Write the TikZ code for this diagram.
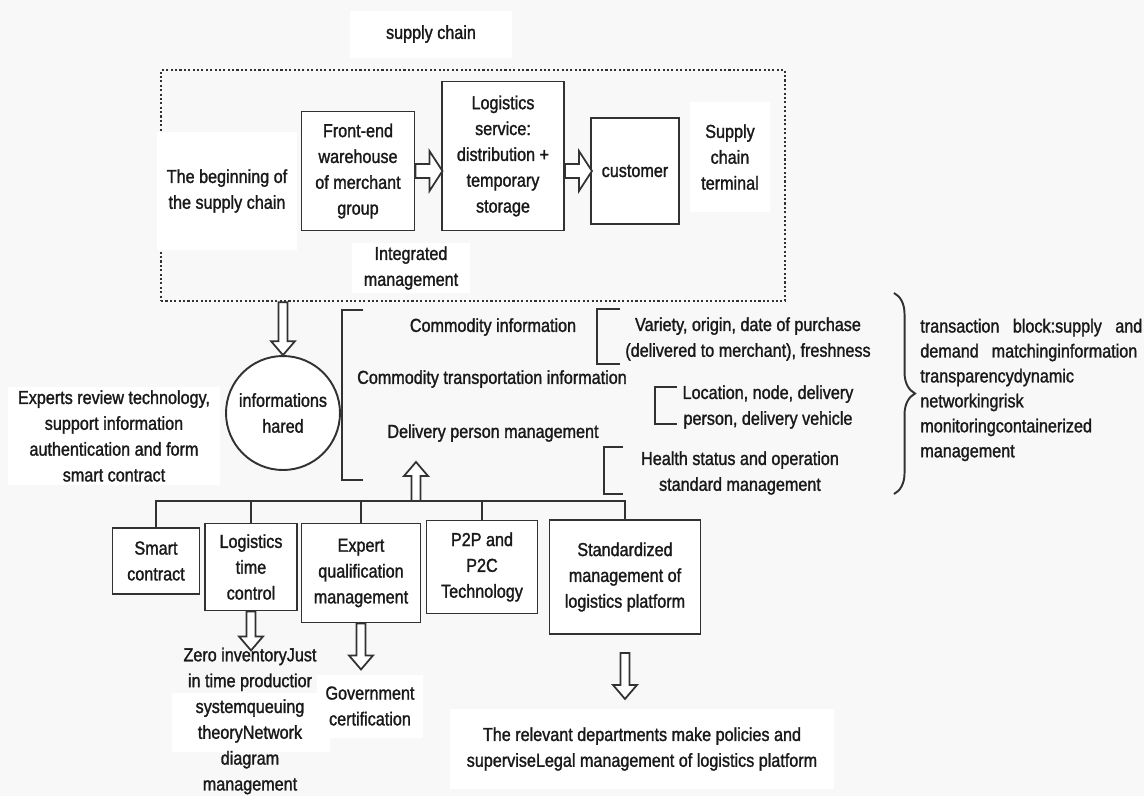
\documentclass[tikz,border=0pt]{standalone}
\usepackage{fontspec}
\setmainfont[FakeStretch=0.86,FakeBold=1.4]{Liberation Sans}
\usetikzlibrary{decorations.pathreplacing}
\definecolor{bggray}{RGB}{248,248,248}
\definecolor{edge}{RGB}{50,50,50}
\definecolor{ink}{RGB}{25,25,25}

\begin{document}
\begin{tikzpicture}[%
      x=0.02cm, y=-0.02cm,
      font=\fontsize{10.7}{14.7}\selectfont,
      text=ink,
      box/.style={draw=edge, line width=1.1pt, fill=white, align=center, inner sep=1pt},
      lbl/.style={fill=white, align=center, inner sep=0pt},
      txt/.style={align=center, inner sep=0pt},
      line/.style={draw=edge, line width=1.1pt},
      fatline/.style={draw=edge, line width=1pt, fill=white},
      dotbox/.style={draw=edge, line width=1.3pt, dash pattern=on 1.2pt off 1.3pt},
      pics/rarrow/.style={code={\draw [fatline] (0,-7) -- (#1-13,-7) -- (#1-13,-20) -- (#1,0) -- (#1-13,20) -- (#1-13,7) -- (0,7) -- cycle;}},
      pics/varrow/.style={code={\draw [fatline] (0,-4.5) -- (#1-14,-4.5) -- (#1-14,-12) -- (#1,0) -- (#1-14,12) -- (#1-14,4.5) -- (0,4.5) -- cycle;}},
      ]
      \useasboundingbox (0,0) rectangle (1144,796);
      \fill [bggray] (0,0) rectangle (1144,796);

      % supply chain
      \node [lbl, minimum width=3.26cm, minimum height=0.94cm] (title) at (431,34) {supply chain};
      \node [dotbox, minimum width=12.48cm, minimum height=4.62cm] (chain) at (473,185.5) {};
      \node [lbl, minimum width=2.82cm, minimum height=2.36cm] (begin) at (227,191) {The beginning of\\the supply chain};
      \node [box, minimum width=2.26cm, minimum height=2.38cm] (front) at (358,171) {Front-end\\warehouse\\of merchant\\group};
      \node [box, minimum width=2.44cm, minimum height=2.98cm] (logi) at (503,156) {Logistics\\service:\\distribution +\\temporary\\storage};
      \node [box, minimum width=1.76cm, minimum height=2.12cm] (cust) at (635,171) {customer};
      \node [lbl, minimum width=1.6cm, minimum height=2.2cm] (terminal) at (730,157) {Supply\\chain\\terminal};
      \node [lbl, minimum width=2.36cm, minimum height=1.0cm] (integ) at (411,268) {Integrated\\management};
      \pic at (front.east) {rarrow=27};
      \pic at (logi.east |- front.east) {rarrow=27};

      % shared information
      \node [circle, draw=edge, line width=1.1pt, fill=white, align=center, inner sep=0pt, minimum size=2.28cm] (info) at (283,413) {informations\\hared};
      \pic [rotate=-90] at (info.north |- chain.south) {varrow=53};
      \node [lbl, minimum width=4.24cm, minimum height=1.96cm] (experts) at (114,436) {Experts review technology,\\support information\\authentication and form\\smart contract};

      \draw [line] (363,310) -- (342,310) -- (342,480) -- (363,480);
      \node [txt] (comm) at (493,327) {Commodity information};
      \node [txt] (trans) at (492,379) {Commodity transportation information};
      \node [txt] (deliv) at (493,433) {Delivery person management};

      \draw [line] (620,309) -- (597,309) -- (597,364) -- (620,364);
      \draw [line] (677,387) -- (655,387) -- (655,424) -- (677,424);
      \draw [line] (623,447) -- (604,447) -- (604,494) -- (623,494);
      \node [txt] (variety) at (748,339) {Variety, origin, date of purchase\\(delivered to merchant), freshness};
      \node [txt] (location) at (768,407) {Location, node, delivery\\person, delivery vehicle};
      \node [txt] (health) at (740,473) {Health status and operation\\standard management};

      \draw [line, decorate, decoration={brace, amplitude=12pt}] (894,293) -- (894,494);
      \node [txt, anchor=west, align=left, font=\fontsize{10.7}{14.2}\selectfont] (block) at (920,390) {\makebox[4.44cm][s]{transaction block:supply and}\\\makebox[4.34cm][s]{demand matchinginformation}\\transparencydynamic\\networkingrisk\\monitoringcontainerized\\management};

      % technologies
      \node [box, minimum width=1.74cm, minimum height=1.32cm] (smart) at (156,561) {Smart\\contract};
      \node [box, minimum width=1.84cm, minimum height=1.74cm] (timectl) at (251,567) {Logistics\\time\\control};
      \node [box, minimum width=2.38cm, minimum height=1.98cm] (expert) at (361,573) {Expert\\qualification\\management};
      \node [box, minimum width=2.22cm, minimum height=1.86cm] (ptwop) at (482,567) {P2P and\\P2C\\Technology};
      \node [box, minimum width=3.02cm, minimum height=2.28cm] (standard) at (625,577) {Standardized\\management of\\logistics platform};
      \coordinate (bus) at (416,501);
      \draw [line] (smart.north) |- (bus) -| (standard.north);
      \foreach \b in {timectl,expert,ptwop}
        \draw [line] (\b.north) -- (\b.north |- bus);
      \pic [rotate=90] at (bus) {varrow=39};

      % results
      \fill [white] (172,693) rectangle (330,752);
      \pic [rotate=-90] at (timectl.south) {varrow=39};
      \pic [rotate=-90] at (expert.south) {varrow=46};
      \pic [rotate=-90] at ([yshift=-0.36cm]standard.south) {varrow=46};
      \node [lbl, minimum width=2.12cm, minimum height=1.26cm] (gov) at (370,706) {Government\\certification};
      \node [txt] (zero) at (250,721) {Zero inventoryJust\\in time productior\\systemqueuing\\theoryNetwork\\diagram\\management};
      \node [lbl, minimum width=7.7cm, minimum height=1.6cm] (policy) at (642,749) {The relevant departments make policies and\\superviseLegal management of logistics platform};
\end{tikzpicture}
\end{document}
